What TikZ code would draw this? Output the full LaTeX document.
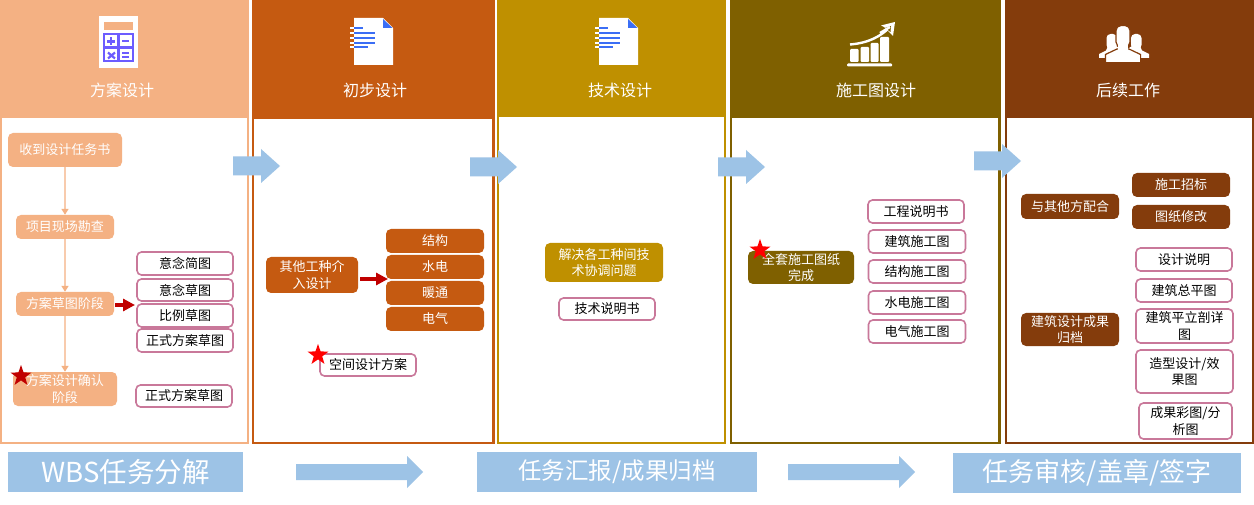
\documentclass[tikz,border=0pt]{standalone}
\usepackage{fontspec}
\setmainfont{Noto Sans CJK SC}
\usetikzlibrary{shapes.geometric,arrows.meta}
\definecolor{cA}{HTML}{F4B183}
\definecolor{cB}{HTML}{C55A11}
\definecolor{cC}{HTML}{BF9000}
\definecolor{cD}{HTML}{7F6000}
\definecolor{cE}{HTML}{843C0C}
\definecolor{blueA}{HTML}{9DC3E6}
\definecolor{pinkA}{HTML}{C9789A}
\definecolor{purpA}{HTML}{6C5CFF}
\definecolor{blueD}{HTML}{3B6EF5}
\definecolor{redD}{HTML}{C00000}
\definecolor{paleA}{HTML}{F8CBAD}
\newcommand{\fs}[1]{\fontsize{#1}{#1}\selectfont}
\newcommand{\colframe}[6]{%
  \fill[#1] (#2,0) rectangle (#3,444);
  \fill[white] (#4,#6) rectangle (#5,442);
}
\newcommand{\blockarr}[6]{% x0,x1,y,head start,shaft half,head half
  \fill[blueA] (#1,#3-#5) -- (#4,#3-#5) -- (#4,#3-#6) -- (#2,#3) -- (#4,#3+#6) -- (#4,#3+#5) -- (#1,#3+#5) -- cycle;
}
\tikzset{
  x=1pt,y=-1pt,
  boxA/.style={draw=none,rounded corners=5pt,align=center,text=white,inner sep=0pt,font=\fs{13}},
  boxpink/.style={draw=pinkA,line width=1.6pt,fill=white,rounded corners=4.5pt,align=center,text=black,inner sep=0pt,font=\fs{13}},
  headtxt/.style={text=white,font=\fs{16},inner sep=0pt},
  flow/.style={draw=paleA,line width=1.3pt,-{Triangle[length=6pt,width=7pt,fill=cA,color=cA]}},
  redarr/.style={draw=redD,line width=4pt,-{Triangle[length=12pt,width=12pt,fill=redD,color=redD]}},
  starA/.style={star,star points=5,star point ratio=2.5,inner sep=0pt,minimum size=22pt},
  banner/.style={fill=blueA,text=white,inner sep=0pt},
  docicon/.pic={
    \fill[white] (0,0) -- (29,0) -- (39,10) -- (39,47) -- (0,47) -- cycle;
    \fill[blueD] (29,1) -- (38.5,10) -- (29,10) -- cycle;
    \fill[white] (-4,9) rectangle (0,11);
    \fill[white] (-4,14) rectangle (0,16);
    \fill[white] (-4,19) rectangle (0,21);
    \fill[white] (-4,24) rectangle (0,26);
    \fill[white] (-4,28) rectangle (0,30);
    \fill[blueD] (0,9) rectangle (9,11);
    \fill[blueD] (0,14) rectangle (21,16);
    \fill[blueD] (0,19) rectangle (21,21);
    \fill[blueD] (0,24) rectangle (21,26);
    \fill[blueD] (0,28) rectangle (14,30);
  }
}
\begin{document}
\begin{tikzpicture}
\useasboundingbox (0,0) rectangle (1254,505);
\fill[white] (0,0) rectangle (1254,505);
% columns
\colframe{cA}{0}{249}{2}{247}{118}
\colframe{cB}{252}{495}{254}{492}{119}
\colframe{cC}{497}{726}{499}{724}{117}
\colframe{cD}{730}{1001}{732}{998}{118}
\colframe{cE}{1005}{1254}{1007}{1252}{118}
% headers
\node[headtxt] (h1) at (122,90) {方案设计};
\node[headtxt] (h2) at (375,90) {初步设计};
\node[headtxt] (h3) at (620,90) {技术设计};
\node[headtxt] (h4) at (876,90) {施工图设计};
\node[headtxt] (h5) at (1128,90) {后续工作};
% calculator icon
\fill[white] (99,16) rectangle (138,68);
\fill[cA] (104,22) rectangle (133,30);
\draw[purpA,line width=2.2pt] (104,34) rectangle (133,61) (118.5,34) -- (118.5,61) (104,47.5) -- (133,47.5);
\draw[purpA,line width=2.2pt] (107,41.5) -- (115,41.5) (111,37.5) -- (111,45.5);
\draw[purpA,line width=2pt] (122,41) -- (129,41);
\draw[purpA,line width=2.2pt] (108,52.5) -- (115,58.5) (115,52.5) -- (108,58.5);
\draw[purpA,line width=1.5pt] (122,53) -- (129,53) (122,57) -- (129,57);
% document icons
\pic at (354,18) {docicon};
\pic at (599,18) {docicon};
% chart icon
\fill[white,rounded corners=1pt] (847,63.5) rectangle (892,66.5);
\fill[white,rounded corners=1pt] (850,49) rectangle (858.5,62);
\fill[white,rounded corners=1pt] (860.5,47) rectangle (869,62);
\fill[white,rounded corners=1pt] (870.5,43) rectangle (878.5,62);
\fill[white,rounded corners=1pt] (880,37) rectangle (889,62);
\draw[white,line width=2.4pt] (850,44.5) .. controls (868,43) and (880,37) .. (890,27);
\fill[white] (895,22) -- (881,25.5) -- (884,27) -- (889,32) -- (893,36) -- cycle;
\fill[cD] (885,28) -- (891,26) -- (890.5,32) -- cycle;
\draw[white,line width=2.4pt] (880,33) -- (890,27);
% people icon
\fill[white,rounded corners=4pt] (1106.5,34) rectangle (1117,49);
\fill[white,rounded corners=4pt] (1131,34) rectangle (1141.5,49);
\fill[white] (1099,58) -- (1099,54) -- (1106,50.5) -- (1108,46) -- (1116,46) -- (1122,50) -- (1122,58) -- cycle;
\fill[white] (1149,58) -- (1149,54) -- (1142,50.5) -- (1140,46) -- (1132,46) -- (1126,50) -- (1126,58) -- cycle;
\fill[white,draw=cE,line width=1.2pt,rounded corners=5pt] (1116,25.5) rectangle (1130,47);
\fill[white,draw=cE,line width=1.2pt] (1105.4,64) -- (1105.4,54.5) -- (1117,49) -- (1129,49) -- (1140.6,54.5) -- (1140.6,64) -- cycle;
\fill[cE] (1099,58.5) rectangle (1105,64.5);
\fill[cE] (1141,58.5) rectangle (1149,64.5);
\fill[cE] (1105,62.2) rectangle (1141,64.5);
\fill[white] (1118,44) rectangle (1128,53);
% column 1
\node[boxA,fill=cA,minimum width=114pt,minimum height=34pt] (a1) at (65,150) {收到设计任务书};
\node[boxA,fill=cA,minimum width=98pt,minimum height=24pt] (a2) at (65,227) {项目现场勘查};
\node[boxA,fill=cA,minimum width=98pt,minimum height=24pt] (a3) at (65,304) {方案草图阶段};
\node[boxA,fill=cA,minimum width=104pt,minimum height=34pt] (a4) at (65,389) {方案设计确认\\[3.3pt]阶段};
\draw[flow] (a1) -- (a2);
\draw[flow] (a2) -- (a3);
\draw[flow] (a3) -- (a4);
\node[boxpink,minimum width=96pt,minimum height=23pt] (b1) at (185,263.5) {意念简图};
\node[boxpink,minimum width=96pt,minimum height=22pt] (b2) at (185,290) {意念草图};
\node[boxpink,minimum width=96pt,minimum height=23pt] (b3) at (185,315.5) {比例草图};
\node[boxpink,minimum width=96pt,minimum height=23pt] (b4) at (185,340.5) {正式方案草图};
\node[boxpink,minimum width=96pt,minimum height=22pt] (b5) at (184,396) {正式方案草图};
\coordinate (r1) at (135,305);
\draw[redarr] (a3.east) ++(1,1) -- (r1);
\node[starA,fill=redD] (s1) at (21,376) {};
% column 2
\node[boxA,fill=cB,minimum width=92pt,minimum height=36pt] (c0) at (312,275) {其他工种介\\[3.3pt]入设计};
\node[boxA,fill=cB,minimum width=98pt,minimum height=24pt] (c1) at (435,241) {结构};
\node[boxA,fill=cB,minimum width=98pt,minimum height=24pt] (c2) at (435,267) {水电};
\node[boxA,fill=cB,minimum width=98pt,minimum height=24pt] (c3) at (435,293) {暖通};
\node[boxA,fill=cB,minimum width=98pt,minimum height=24pt] (c4) at (435,319) {电气};
\coordinate (r2) at (388,279);
\draw[redarr] (360,279) -- (r2);
\node[boxpink,minimum width=96pt,minimum height=22pt] (c5) at (368,365) {空间设计方案};
\node[starA,fill=red] (s2) at (318,355) {};
% column 3
\node[boxA,fill=cC,minimum width=118pt,minimum height=39pt] (d1) at (604,262.5) {解决各工种间技\\[3.3pt]术协调问题};
\node[boxpink,minimum width=96pt,minimum height=22pt] (d2) at (607,309) {技术说明书};
% column 4
\node[boxA,fill=cD,minimum width=106pt,minimum height=33pt] (e0) at (801,267.5) {全套施工图纸\\[3.3pt]完成};
\node[starA,fill=red] (s3) at (760,250) {};
\node[boxpink,minimum width=96pt,minimum height=23pt] (e1) at (916,211.5) {工程说明书};
\node[boxpink,minimum width=97pt,minimum height=23pt] (e2) at (917,241.5) {建筑施工图};
\node[boxpink,minimum width=97pt,minimum height=23pt] (e3) at (917,271.5) {结构施工图};
\node[boxpink,minimum width=97pt,minimum height=23pt] (e4) at (917,302.5) {水电施工图};
\node[boxpink,minimum width=97pt,minimum height=23pt] (e5) at (917,331.5) {电气施工图};
% column 5
\node[boxA,fill=cE,minimum width=98pt,minimum height=25pt] (f1) at (1070,206.5) {与其他方配合};
\node[boxA,fill=cE,minimum width=98pt,minimum height=24pt] (f2) at (1181,185) {施工招标};
\node[boxA,fill=cE,minimum width=98pt,minimum height=24pt] (f3) at (1181,217) {图纸修改};
\node[boxA,fill=cE,minimum width=98pt,minimum height=33pt] (f4) at (1070,329.5) {建筑设计成果\\[3.3pt]归档};
\node[boxpink,minimum width=96pt,minimum height=23pt] (g1) at (1184,259.5) {设计说明};
\node[boxpink,minimum width=96pt,minimum height=23pt] (g2) at (1184,290.5) {建筑总平图};
\node[boxpink,minimum width=97pt,minimum height=34pt] (g3) at (1184.5,326) {建筑平立剖详\\[3.3pt]图};
\node[boxpink,minimum width=97pt,minimum height=43pt] (g4) at (1184.5,371.5) {造型设计/效\\[3.3pt]果图};
\node[boxpink,minimum width=93pt,minimum height=36pt] (g5) at (1185.5,421) {成果彩图/分\\[3.3pt]析图};
% block arrows
\blockarr{233}{280}{166}{261}{9.5}{17}
\blockarr{470}{517}{167}{498}{9.5}{17}
\blockarr{718}{765}{167}{746}{9.5}{17}
\blockarr{974}{1021}{161}{1002}{9.5}{17}
\blockarr{296}{423}{472}{407}{8}{16}
\blockarr{788}{915}{472}{899}{8}{16}
% banners
\node[banner,font=\fs{27.5},minimum width=235pt,minimum height=40pt] (w1) at (125.5,472) {WBS任务分解};
\node[banner,font=\fs{23.5},minimum width=280pt,minimum height=40pt] (w2) at (617,472) {任务汇报/成果归档};
\node[banner,font=\fs{26},minimum width=288pt,minimum height=40pt] (w3) at (1097,473) {任务审核/盖章/签字};
\end{tikzpicture}
\end{document}
